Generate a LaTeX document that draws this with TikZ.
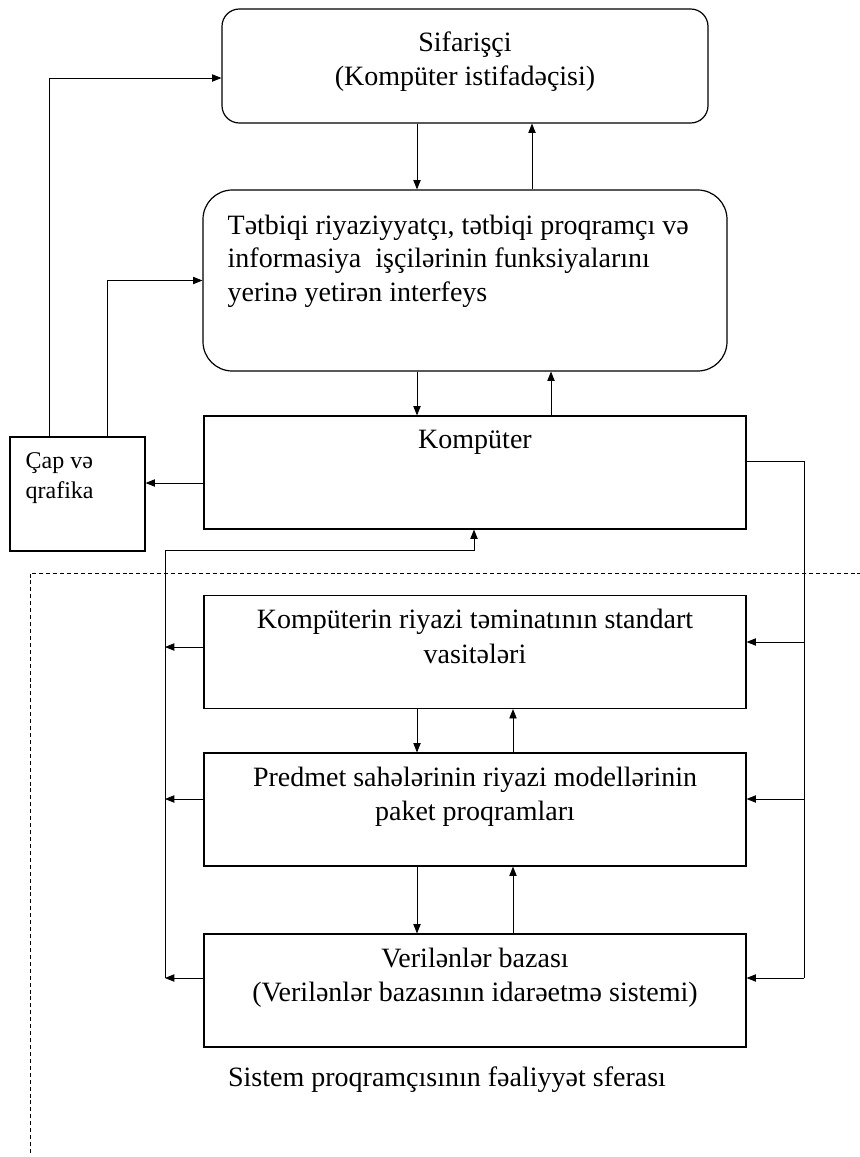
\documentclass[tikz,border=0pt]{standalone}
\usepackage{fontspec}
\setmainfont{Liberation Serif}
\usetikzlibrary{arrows.meta, positioning, calc}
\tikzset{
  % rectangular block
  box/.style={draw, line width=0.9pt, minimum width=406.5pt, minimum height=84.75pt,
    inner sep=0pt},
  % rounded block
  rbox/.style={box, rounded corners=13pt},
  % text inside a block
  txt/.style={inner sep=0pt, align=center, font=\fontsize{21}{26}\selectfont},
  smalltxt/.style={inner sep=0pt, align=left, font=\fontsize{18}{22.5}\selectfont},
  % connectors
  conn/.style={line width=0.6pt},
  arr/.style={conn, -{Triangle[length=7pt, width=5.5pt]}},
  % border of the system programmer's zone
  zone/.style={line width=0.6pt, dash pattern=on 3pt off 2.2pt},
}
\begin{document}
\begin{tikzpicture}[x=0.75pt, y=-0.75pt]
  \useasboundingbox (0,0) rectangle (860,1157);

  % blocks
  \node[rbox, minimum width=364.5pt, minimum height=85.5pt] (sif) at (465,66) {};
  \node[txt, below=17pt of sif.north] (sift) {Sifarişçi\\(Kompüter istifadəçisi)};
  \node[rbox, rounded corners=22pt, minimum width=393pt, minimum height=135.75pt] (ifc) at (465,280.5) {};
  \node[txt, align=left, anchor=north west, font=\fontsize{21}{25}\selectfont] (ifct)
    at ([xshift=18.75pt, yshift=-19pt]ifc.north west)
    {Tətbiqi riyaziyyatçı, tətbiqi proqramçı və\\informasiya~ işçilərinin funksiyalarını\\yerinə yetirən interfeys};
  \node[box] (komp) at (475,472.5) {};
  \node[txt, below=10.5pt of komp.north] (kompt) {Kompüter};
  \node[box, minimum width=101.25pt, minimum height=85.5pt] (cap) at (77.5,494) {};
  \node[smalltxt, anchor=north west] (capt) at ([xshift=12pt, yshift=-12pt]cap.north west) {Çap və\\qrafika};
  \node[box] (std) at (475,652) {};
  \node[txt, below=10.5pt of std.north] (stdt) {Kompüterin riyazi təminatının standart\\vasitələri};
  \node[box] (pak) at (475,809.5) {};
  \node[txt, below=10.5pt of pak.north] (pakt) {Predmet sahələrinin riyazi modellərinin\\paket proqramları};
  \node[box] (ver) at (475,990.5) {};
  \node[txt, below=10.5pt of ver.north] (vert) {Verilənlər bazası\\(Verilənlər bazasının idarəetmə sistemi)};
  \node[txt] (sfera) at (447,1080) {Sistem proqramçısının fəaliyyət sferası};

  % x / y positions of the connectors
  \coordinate (xd) at (417,0);
  \coordinate (xu1) at (532,0);
  \coordinate (xu2) at (551,0);
  \coordinate (xu3) at (513,0);
  \coordinate (xbus) at (165,0);
  \coordinate (xr) at (804,0);
  \coordinate (xk) at (474,0);
  \coordinate (c1) at (49,78);
  \coordinate (c2) at (107,0);
  \coordinate (c3) at (0,483);
  \coordinate (yk) at (0,461);
  \coordinate (bl) at (165,550);

  % vertical links
  \draw[arr] (sif.south -| xd) -- (ifc.north -| xd);
  \draw[arr] (ifc.north -| xu1) -- (sif.south -| xu1);
  \draw[arr] (ifc.south -| xd) -- (komp.north -| xd);
  \draw[arr] (komp.north -| xu2) -- (ifc.south -| xu2);
  \draw[arr] (std.south -| xd) -- (pak.north -| xd);
  \draw[arr] (pak.north -| xu3) -- (std.south -| xu3);
  \draw[arr] (pak.south -| xd) -- (ver.north -| xd);
  \draw[arr] (ver.north -| xu3) -- (pak.south -| xu3);

  % printing and graphics
  \draw[arr] (komp.west |- c3) -- (cap.east |- c3);
  \draw[arr] (cap.north -| c1) -- (c1) -- (sif.west |- c1);
  \draw[arr] (cap.north -| c2) |- (ifc.west);

  % left bus back to the computer
  \foreach \b/\y in {std/647, pak/799, ver/978} {
    \coordinate (l\b) at (0,\y);
    \draw[arr] (\b.west |- l\b) -- (xbus |- l\b);
  }
  \draw[arr] (xbus |- lver) -- (bl) -| (komp.south -| xk);

  % right bus from the computer
  \draw[conn] (komp.east |- yk) -- (xr |- yk) -- (xr |- lver);
  \foreach \b/\y in {std/642, pak/799, ver/978} {
    \coordinate (r\b) at (0,\y);
    \draw[arr] (xr |- r\b) -- (\b.east |- r\b);
  }

  % zone border
  \coordinate (d1) at (30,1153);
  \coordinate (d3) at (860,573);
  \draw[zone] (d1) |- (d3);
\end{tikzpicture}
\end{document}
